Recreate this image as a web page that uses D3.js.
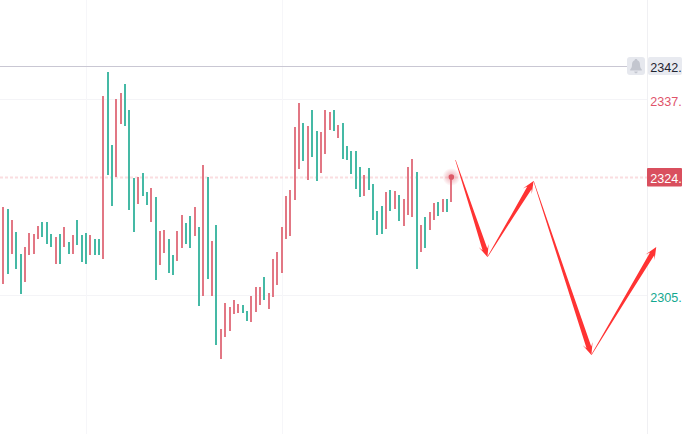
<!DOCTYPE html>
<html><head><meta charset="utf-8">
<script src="https://cdn.jsdelivr.net/npm/d3@7/dist/d3.min.js"></script>
<style>html,body{margin:0;padding:0;background:#fff;overflow:hidden}svg{display:block}text{font-family:"Liberation Sans",Arial,sans-serif}</style>
</head><body><div id="chart"></div>
<script>
const highs=[2319.7,2319.37,2317.53,2315.53,2311.87,2313.03,2315.37,2315.2,2316.53,2317.2,2317.2,2315.2,2314.7,2315.2,2316.37,2313.87,2315.03,2317.53,2315.03,2315.37,2315.03,2314.37,2314.37,2338.2,2342.2,2330.03,2337.7,2338.7,2340.2,2335.87,2324.53,2324.7,2325.37,2322.2,2322.87,2321.37,2315.7,2315.87,2314.37,2311.7,2315.7,2318.37,2317.03,2318.2,2319.7,2316.37,2326.7,2324.7,2314.03,2316.7,2299.37,2303.7,2303.03,2304.2,2303.53,2303.37,2302.37,2304.87,2306.37,2306.37,2308.03,2305.37,2311.03,2312.2,2316.37,2321.53,2322.53,2333.03,2337.03,2333.7,2333.2,2335.87,2332.37,2332.2,2335.87,2335.53,2335.87,2333.37,2333.7,2329.87,2329.03,2329.03,2326.37,2325.03,2326.2,2323.53,2319.03,2319.87,2322.2,2322.53,2322.37,2321.7,2321.03,2326.37,2327.7,2325.53,2316.7,2318.03,2318.87,2320.37,2320.53,2321.03,2321.03,2324.7];
const lows=[2306.87,2308.53,2311.87,2309.37,2305.2,2307.2,2311.7,2311.87,2314.37,2314.7,2313.53,2313.03,2310.2,2310.2,2313.03,2311.87,2311.87,2313.37,2310.53,2310.2,2311.7,2311.7,2311.7,2311.03,2325.03,2319.87,2324.7,2333.53,2333.2,2319.2,2315.53,2320.2,2321.53,2320.03,2317.2,2307.53,2310.03,2312.03,2308.7,2308.37,2310.7,2312.87,2313.53,2312.87,2314.87,2303.2,2304.87,2307.7,2304.87,2296.7,2294.37,2298.03,2299.03,2301.87,2302.03,2302.03,2300.7,2300.53,2302.2,2303.37,2304.2,2302.7,2304.7,2306.7,2308.7,2314.37,2314.87,2320.87,2326.03,2327.37,2324.2,2328.03,2324.03,2325.37,2328.53,2332.53,2332.37,2331.2,2327.7,2327.53,2325.2,2322.7,2321.37,2321.53,2322.53,2317.53,2315.03,2315.2,2316.03,2319.03,2319.37,2317.37,2316.53,2318.37,2318.03,2309.37,2312.2,2312.87,2315.87,2317.53,2318.2,2318.87,2318.87,2320.53];
const risingBars=[0,2,5,6,7,8,12,14,16,20,23,26,27,31,34,36,37,40,41,44,46,48,50,51,52,53,54,57,58,59,61,62,63,64,65,66,67,68,70,73,74,75,77,83,88,90,92,93,94,96,98,99,101,103];
const gridPrices=[2337.7,2305.03];
const gridBars=[19,64];
const lastPrice=2324.7, alertPrice=2342.99;
const axisLabels=[{t:"2342.",p:2342.99,dy:4.3},{t:"2337.",p:2337.7,dy:7},{t:"2324.",p:2324.7,dy:6.5},{t:"2305.",p:2305.03,dy:7}];
const arrowBars=[103.95,111.3,121.9,135.2,150.1];
const arrowPrices=[2327.53,2311.37,2324.03,2295.03,2313.03];

const W=682,H=434,axisX=647;
const x=d3.scaleLinear().domain([0,103]).range([3.3,451.35]);
const y=d3.scaleLinear().domain([2305.03,2337.7]).range([295,99]);
const svg=d3.select("#chart").append("svg").attr("width",W).attr("height",H);
const defs=svg.append("defs");
const g=defs.append("radialGradient").attr("id","halo");
g.append("stop").attr("offset","0%").attr("stop-color","#e0606e").attr("stop-opacity",.55);
g.append("stop").attr("offset","100%").attr("stop-color","#e0606e").attr("stop-opacity",0);

// grid
const crisp=v=>Math.round(v)+.5;
svg.selectAll(".gh").data(gridPrices).join("line").attr("x1",0).attr("x2",axisX)
 .attr("y1",d=>crisp(y(d))).attr("y2",d=>crisp(y(d))).attr("stroke","#f4f4f7");
svg.selectAll(".gv").data(gridBars).join("line").attr("y1",0).attr("y2",H)
 .attr("x1",d=>crisp(x(d))).attr("x2",d=>crisp(x(d))).attr("stroke","#f6f6f9");
svg.append("line").attr("x1",axisX+.5).attr("x2",axisX+.5).attr("y1",0).attr("y2",H).attr("stroke","#f0f0f3");

// alert + last price lines
svg.append("line").attr("x1",0).attr("x2",627).attr("y1",crisp(y(alertPrice))-1).attr("y2",crisp(y(alertPrice))-1).attr("stroke","#c9c7d3");
svg.append("line").attr("x1",0).attr("x2",axisX).attr("y1",crisp(y(lastPrice))).attr("y2",crisp(y(lastPrice)))
 .attr("stroke","#fadde0").attr("stroke-width",2).attr("stroke-dasharray","3 2");

// bars
const rising=new Set(risingBars);
svg.selectAll(".bar").data(highs.map((h,i)=>({i,h,l:lows[i]}))).join("rect")
 .attr("x",d=>Math.round(x(d.i)-1)).attr("width",2)
 .attr("y",d=>Math.round(y(d.h))).attr("height",d=>Math.round(y(d.l))-Math.round(y(d.h)))
 .attr("fill",d=>rising.has(d.i)?"#e27784":"#45b9a5");

// last price marker
const lx=x(103),ly=y(lastPrice);
svg.append("circle").attr("cx",lx).attr("cy",ly).attr("r",9).attr("fill","url(#halo)");
svg.append("circle").attr("cx",lx).attr("cy",ly).attr("r",2.8).attr("fill","#dc5866");

// drawn arrows
function arrowPath(s,t){
  const dx=t[0]-s[0],dy=t[1]-s[1],L=Math.hypot(dx,dy),u=[dx/L,dy/L],n=[-u[1],u[0]];
  const at=(a,b)=>[t[0]-u[0]*a+n[0]*b,t[1]-u[1]*a+n[1]*b];
  const tail=[s[0]+n[0]*.25,s[1]+n[1]*.25],tail2=[s[0]-n[0]*.25,s[1]-n[1]*.25];
  return "M"+[tail,at(L*.45,1.5),at(8,2.5),at(12,5.2),t,at(12,-5.2),at(8,-2.5),at(L*.45,-1.5),tail2].map(p=>p.join(",")).join("L")+"Z";
}
const pts=arrowBars.map((b,i)=>[x(b),y(arrowPrices[i])]);
svg.selectAll(".arrow").data(d3.pairs(pts)).join("path").attr("d",d=>arrowPath(d[0],d[1])).attr("fill","#ff3333");

// axis boxes
const ax=svg.append("g");
const ya=Math.floor(y(alertPrice))-10;
ax.append("rect").attr("x",627).attr("y",ya).attr("width",18).attr("height",18).attr("rx",3).attr("fill","#e6e8ee");
ax.append("path").attr("transform",`translate(636,${ya+9})`)
 .attr("d","M0,-7C.9,-7 1.3,-6.4 1.4,-5.8C3.4,-5 4,-3.2 4,-1.2C4,1 4.6,2.4 5.8,3.6L5.8,4.6L-5.8,4.6L-5.8,3.6C-4.6,2.4 -4,1 -4,-1.2C-4,-3.2 -3.4,-5 -1.4,-5.8C-1.3,-6.4 -.9,-7 0,-7ZM-1.8,5.4L1.8,5.4C1.6,6.6 .9,7.2 0,7.2C-.9,7.2 -1.6,6.6 -1.8,5.4Z").attr("fill","#c3c6cf");
ax.append("rect").attr("x",648).attr("y",ya).attr("width",34).attr("height",18).attr("rx",2).attr("fill","#e8eaf0");
ax.append("rect").attr("x",647).attr("y",Math.round(ly)-9).attr("width",35).attr("height",18.5).attr("rx",1).attr("fill","#d94f5e");
const labelColors=["#1f2430","#e0536a","#ffffff","#12a88f"];
ax.selectAll("text").data(axisLabels).join("text").attr("x",650.2).attr("y",d=>y(d.p)+d.dy)
 .attr("font-size",12.6).attr("fill",(d,i)=>labelColors[i]).text(d=>d.t);
</script></body></html>
